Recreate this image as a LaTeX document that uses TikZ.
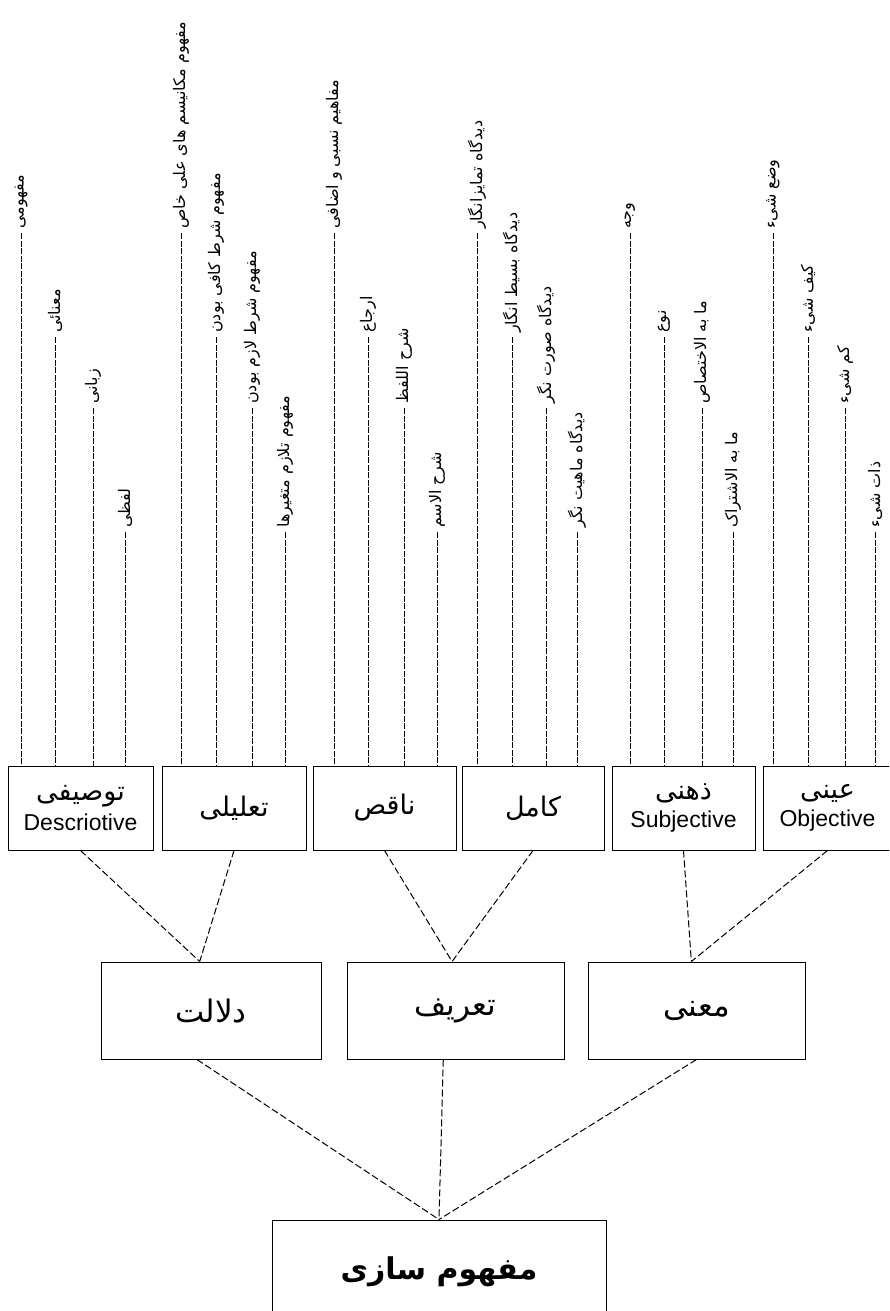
\documentclass[tikz,border=0pt]{standalone}
\usepackage{fontspec}
\setmainfont{Liberation Sans}
\newfontfamily\arabicfont[Script=Arabic]{DejaVu Sans}
\TeXXeTstate=1
\newcommand{\fatext}[1]{\arabicfont\beginR #1\endR}

\tikzset{
  box/.style={draw, line width=1pt, align=center, inner sep=0pt},
  leaf/.style={rotate=90, anchor=west, inner sep=4pt, font=\arabicfont\fontsize{16}{18}\selectfont},
  leafline/.style={line width=1pt, dash pattern=on 6pt off 1.5pt},
  link/.style={line width=1pt, dash pattern=on 7pt off 3pt},
}

\begin{document}
\begin{tikzpicture}[x=1pt, y=-1pt]
  \useasboundingbox (0,0) rectangle (889,1311);
  \clip (0,0) rectangle (889,1311);

%Third level boxes
  \node[box, minimum width=145pt, minimum height=84pt] (tawsifi) at (80.5,808)
     {{\fontsize{27}{28}\selectfont\fatext{توصیفی}}\\[6pt]{\fontsize{23}{24}\selectfont Descriotive}};
  \node[box, minimum width=144pt, minimum height=84pt] (talili) at (234,808)
     {\fontsize{27}{28}\selectfont\fatext{تعلیلی}};
  \node[box, minimum width=143pt, minimum height=84pt] (naqis) at (384.5,808)
     {\fontsize{27}{28}\selectfont\fatext{ناقص}};
  \node[box, minimum width=142pt, minimum height=84pt] (kamil) at (533,808)
     {\fontsize{27}{28}\selectfont\fatext{کامل}};
  \node[box, minimum width=143pt, minimum height=84pt] (zehni) at (683.5,808)
     {{\fontsize{27}{28}\selectfont\fatext{ذهنی}}\\[6pt]{\fontsize{23}{24}\selectfont Subjective}};
  \node[box, minimum width=129pt, minimum height=84pt] (eini) at (827.5,808)
     {{\fontsize{27}{28}\selectfont\fatext{عینی}}\\[6pt]{\fontsize{23}{24}\selectfont Objective}};

%Second level boxes
  \node[box, minimum width=220pt, minimum height=97pt] (dalalat) at (211,1010.5)
     {\fontsize{31}{33}\selectfont\fatext{دلالت}};
  \node[box, minimum width=217pt, minimum height=97pt] (tarif) at (455.5,1010.5)
     {\fontsize{31}{33}\selectfont\fatext{تعریف}};
  \node[box, minimum width=217pt, minimum height=97pt] (mana) at (696.5,1010.5)
     {\fontsize{31}{33}\selectfont\fatext{معنی}};

%Root
  \node[box, minimum width=334pt, minimum height=104pt] (mafhum) at (439,1272)
     {\fontsize{30}{32}\selectfont\bfseries\fatext{مفهوم سازی}};

%Leaf labels
  \node[leaf] (tw1) at (21,233)  {\fatext{مفهومی}};
  \node[leaf] (tw2) at (55,337)  {\fatext{معنائی}};
  \node[leaf] (tw3) at (93,408)  {\fatext{زبانی}};
  \node[leaf] (tw4) at (125,532) {\fatext{لفظی}};

  \node[leaf] (tl1) at (181,233) {\fatext{مفهوم مکانیسم های علی خاص}};
  \node[leaf] (tl2) at (216,337) {\fatext{مفهوم شرط کافی بودن}};
  \node[leaf] (tl3) at (252,408) {\fatext{مفهوم شرط لازم بودن}};
  \node[leaf] (tl4) at (285,532) {\fatext{مفهوم تلازم متغیرها}};

  \node[leaf] (nq1) at (334,233) {\fatext{مفاهیم نسبی و اضافی}};
  \node[leaf] (nq2) at (368,337) {\fatext{ارجاع}};
  \node[leaf] (nq3) at (404,408) {\fatext{شرح اللفظ}};
  \node[leaf] (nq4) at (437,532) {\fatext{شرح الاسم}};

  \node[leaf] (km1) at (477,233) {\fatext{دیدگاه تمایزانگار}};
  \node[leaf] (km2) at (512,337) {\fatext{دیدگاه بسیط انگار}};
  \node[leaf] (km3) at (546,408) {\fatext{دیدگاه صورت نگر}};
  \node[leaf] (km4) at (577,532) {\fatext{دیدگاه ماهیت نگر}};

  \node[leaf] (zh1) at (630,233) {\fatext{وجه}};
  \node[leaf] (zh2) at (664,337) {\fatext{نوع}};
  \node[leaf] (zh3) at (702,408) {\fatext{ما به الاختصاص}};
  \node[leaf] (zh4) at (733,532) {\fatext{ما به الاشتراک}};

  \node[leaf] (en1) at (773,233) {\fatext{وضع شیء}};
  \node[leaf] (en2) at (808,337) {\fatext{کیف شیء}};
  \node[leaf] (en3) at (845,408) {\fatext{کم شیء}};
  \node[leaf] (en4) at (875,532) {\fatext{ذات شیء}};

%Leaf lines
  \draw[leafline] (tw1.west) -- (tw1.west |- tawsifi.north);
  \draw[leafline] (tw2.west) -- (tw2.west |- tawsifi.north);
  \draw[leafline] (tw3.west) -- (tw3.west |- tawsifi.north);
  \draw[leafline] (tw4.west) -- (tw4.west |- tawsifi.north);
  \draw[leafline] (tl1.west) -- (tl1.west |- talili.north);
  \draw[leafline] (tl2.west) -- (tl2.west |- talili.north);
  \draw[leafline] (tl3.west) -- (tl3.west |- talili.north);
  \draw[leafline] (tl4.west) -- (tl4.west |- talili.north);
  \draw[leafline] (nq1.west) -- (nq1.west |- naqis.north);
  \draw[leafline] (nq2.west) -- (nq2.west |- naqis.north);
  \draw[leafline] (nq3.west) -- (nq3.west |- naqis.north);
  \draw[leafline] (nq4.west) -- (nq4.west |- naqis.north);
  \draw[leafline] (km1.west) -- (km1.west |- kamil.north);
  \draw[leafline] (km2.west) -- (km2.west |- kamil.north);
  \draw[leafline] (km3.west) -- (km3.west |- kamil.north);
  \draw[leafline] (km4.west) -- (km4.west |- kamil.north);
  \draw[leafline] (zh1.west) -- (zh1.west |- zehni.north);
  \draw[leafline] (zh2.west) -- (zh2.west |- zehni.north);
  \draw[leafline] (zh3.west) -- (zh3.west |- zehni.north);
  \draw[leafline] (zh4.west) -- (zh4.west |- zehni.north);
  \draw[leafline] (en1.west) -- (en1.west |- eini.north);
  \draw[leafline] (en2.west) -- (en2.west |- eini.north);
  \draw[leafline] (en3.west) -- (en3.west |- eini.north);
  \draw[leafline] (en4.west) -- (en4.west |- eini.north);

%Links between levels
  \draw[link] (tawsifi.south) -- (dalalat.103);
  \draw[link] (talili.south)  -- (dalalat.103);
  \draw[link] (naqis.south)   -- (tarif.94);
  \draw[link] (kamil.south)   -- (tarif.94);
  \draw[link] (zehni.south)   -- (mana.96);
  \draw[link] (eini.south)    -- (mana.96);

  \draw[link] (dalalat.254) -- (mafhum.north);
  \draw[link] (tarif.256)   -- (mafhum.north);
  \draw[link] (mana.south)  -- (mafhum.north);

\end{tikzpicture}
\end{document}
